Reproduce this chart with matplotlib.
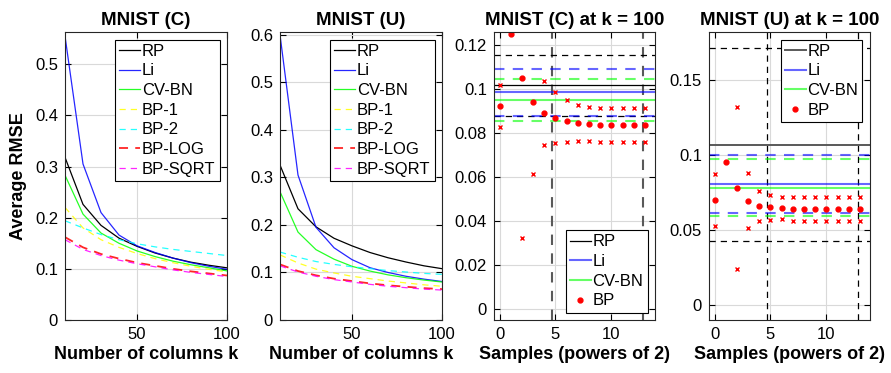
import numpy as np
import matplotlib
matplotlib.use('Agg')
import matplotlib.pyplot as plt

plt.rcParams['font.family'] = ['Liberation Sans', 'DejaVu Sans']

# data
k = [10, 20, 30, 40, 50, 60, 70, 80, 90, 100]
names = ['RP', 'Li', 'CV-BN', 'BP-1', 'BP-2', 'BP-LOG', 'BP-SQRT']

mnist_c = {
    'RP':      [0.318, 0.226, 0.185, 0.160, 0.144, 0.131, 0.121, 0.113, 0.107, 0.102],
    'Li':      [0.555, 0.305, 0.210, 0.166, 0.145, 0.132, 0.121, 0.112, 0.105, 0.099],
    'CV-BN':   [0.283, 0.207, 0.170, 0.150, 0.135, 0.124, 0.115, 0.108, 0.102, 0.096],
    'BP-1':    [0.220, 0.180, 0.157, 0.142, 0.130, 0.120, 0.112, 0.105, 0.099, 0.094],
    'BP-2':    [0.194, 0.180, 0.167, 0.157, 0.149, 0.143, 0.138, 0.134, 0.130, 0.126],
    'BP-LOG':  [0.162, 0.142, 0.129, 0.120, 0.112, 0.106, 0.100, 0.095, 0.091, 0.087],
    'BP-SQRT': [0.157, 0.138, 0.126, 0.117, 0.110, 0.104, 0.098, 0.093, 0.089, 0.085],
}
mnist_u = {
    'RP':      [0.326, 0.234, 0.196, 0.172, 0.156, 0.142, 0.131, 0.122, 0.114, 0.108],
    'Li':      [0.600, 0.305, 0.195, 0.152, 0.127, 0.110, 0.100, 0.092, 0.086, 0.081],
    'CV-BN':   [0.270, 0.185, 0.148, 0.128, 0.113, 0.103, 0.095, 0.089, 0.084, 0.080],
    'BP-1':    [0.137, 0.120, 0.107, 0.099, 0.092, 0.087, 0.082, 0.078, 0.074, 0.071],
    'BP-2':    [0.143, 0.132, 0.123, 0.117, 0.112, 0.108, 0.104, 0.101, 0.098, 0.096],
    'BP-LOG':  [0.117, 0.103, 0.094, 0.087, 0.082, 0.077, 0.073, 0.070, 0.067, 0.065],
    'BP-SQRT': [0.114, 0.101, 0.092, 0.085, 0.080, 0.075, 0.071, 0.068, 0.065, 0.063],
}

samples = list(range(14))
# MNIST (C) at k=100: baselines (mean, lower, upper)
c_base = {'RP': (0.1017, 0.0878, 0.1156), 'Li': (0.0985, 0.0880, 0.1092), 'CV-BN': (0.0949, 0.0854, 0.1044)}
c_bp_mean = [0.0922, 0.125, 0.1051, 0.0942, 0.0892, 0.0869, 0.0855, 0.0846, 0.0840, 0.0837, 0.0836, 0.0836, 0.0836, 0.0836]
c_bp_hi = [0.1018, 0.26, 0.178, 0.127, 0.1036, 0.0989, 0.0951, 0.0928, 0.0917, 0.0914, 0.0913, 0.0913, 0.0913, 0.0913]
c_bp_lo = [0.0827, -0.01, 0.0324, 0.0616, 0.0744, 0.0755, 0.0760, 0.0764, 0.0763, 0.0760, 0.0759, 0.0759, 0.0759, 0.0759]
# MNIST (U) at k=100
u_base = {'RP': (0.1070, 0.0429, 0.1711), 'Li': (0.0806, 0.0615, 0.0998), 'CV-BN': (0.0783, 0.0593, 0.0973)}
u_bp_mean = [0.0700, 0.0953, 0.0782, 0.0695, 0.0662, 0.0651, 0.0644, 0.0642, 0.0642, 0.0642, 0.0642, 0.0642, 0.0642, 0.0642]
u_bp_hi = [0.0875, 0.21, 0.1322, 0.0877, 0.0762, 0.0733, 0.0722, 0.0722, 0.0722, 0.0722, 0.0722, 0.0722, 0.0722, 0.0722]
u_bp_lo = [0.0524, -0.02, 0.0242, 0.0511, 0.0562, 0.0567, 0.0571, 0.0562, 0.0562, 0.0562, 0.0562, 0.0562, 0.0562, 0.0562]
vlines = [4.7, 12.8]

colors = {'RP': 'k', 'Li': (0, 0, 1), 'CV-BN': (0, 1, 0), 'BP-1': (1, 1, 0), 'BP-2': (0, 1, 1),
          'BP-LOG': (1, 0, 0), 'BP-SQRT': (1, 0, 1)}

fig = plt.figure(figsize=(8.91, 3.73), dpi=100)
W, H = 891, 373
def add_ax(x0, x1, y0=32, y1=320):
    return fig.add_axes([x0 / W, 1 - y1 / H, (x1 - x0) / W, (y1 - y0) / H])

axes = [add_ax(65, 227), add_ax(280, 442), add_ax(494, 655), add_ax(709, 870)]

def style(ax):
    ax.tick_params(direction='in', top=True, right=True, labelsize=12, length=4, width=0.8, pad=5)
    ax.grid(True, color='0.85', lw=0.8)
    ax.set_axisbelow(True)
    for s in ax.spines.values():
        s.set_linewidth(0.8)
        s.set_color('0.15')

def leg(ax, loc):
    l = ax.legend(loc=loc, fontsize=12, fancybox=False, framealpha=1, edgecolor='k',
                  handlelength=1.25, handletextpad=0.1, labelspacing=0.28, borderpad=0.25,
                  borderaxespad=0.45)
    l.get_frame().set_linewidth(0.8)

# panels 1 and 2
for ax, data, top, title in [(axes[0], mnist_c, 0.563, 'MNIST (C)'), (axes[1], mnist_u, 0.606, 'MNIST (U)')]:
    for n in names:
        ls = '-' if n in ('RP', 'Li', 'CV-BN') else (0, (5, 4))
        lw = 1.3 if n == 'BP-LOG' else 0.9
        ax.plot(k, data[n], color=colors[n], ls=ls, lw=lw, label=n, alpha=0.85 if n != 'RP' else 1)
    ax.set_xlim(10, 100)
    ax.set_ylim(0, top)
    ax.set_xticks([50, 100])
    ax.set_yticks(np.arange(0, top, 0.1))
    ax.set_yticklabels(['0' if v == 0 else f'{v:.1f}' for v in np.arange(0, top, 0.1)])
    ax.set_title(title, fontsize=13.5, fontweight='bold', pad=5)
    ax.set_xlabel('Number of columns k', fontsize=13, fontweight='bold', labelpad=3)
    style(ax)
    leg(ax, 'upper right')
axes[0].set_ylabel('Average RMSE', fontsize=13, fontweight='bold', labelpad=6)

# panels 3 and 4
for ax, base, mean, hi, lo, ylim, yt, title, vcol, vlw, rpc, rplw in [
        (axes[2], c_base, c_bp_mean, c_bp_hi, c_bp_lo, (-0.005, 0.126), np.arange(0, 0.121, 0.02),
         'MNIST (C) at k = 100', '0.35', 1.5, 'k', 0.9),
        (axes[3], u_base, u_bp_mean, u_bp_hi, u_bp_lo, (-0.01, 0.182), np.arange(0, 0.151, 0.05),
         'MNIST (U) at k = 100', 'k', 0.9, '0.35', 1.4)]:
    for xv in vlines:
        ax.axvline(xv, color=vcol, ls=(0, (5, 4)), lw=vlw)
    for n in ('RP', 'Li', 'CV-BN'):
        m, l_, h_ = base[n]
        if n == 'RP':
            ax.axhline(m, color=rpc, lw=rplw, label=n)
            ax.axhline(l_, color='k', lw=0.9, ls=(0, (5, 4)))
            ax.axhline(h_, color='k', lw=0.9, ls=(0, (5, 4)))
            continue
        c, a, lw = colors[n], 0.6, 1.5
        ax.axhline(m, color=c, alpha=a, lw=lw, label=n)
        ax.axhline(l_, color=c, alpha=a, lw=lw, ls=(0, (5, 4)))
        ax.axhline(h_, color=c, alpha=a, lw=lw, ls=(0, (5, 4)))
    ax.plot(samples, mean, 'o', color='r', ms=3.5, mec='r', ls='none', label='BP')
    ax.plot(samples, hi, 'x', color='r', ms=3, mew=1, ls='none')
    ax.plot(samples, lo, 'x', color='r', ms=3, mew=1, ls='none')
    ax.set_xlim(-0.5, 13.9)
    ax.set_ylim(*ylim)
    ax.set_xticks([0, 5, 10])
    ax.set_yticks(yt)
    ax.set_yticklabels(['0' if abs(v) < 1e-9 else f'{v:g}' for v in yt])
    ax.set_title(title, fontsize=13.5, fontweight='bold', pad=5)
    ax.set_xlabel('Samples (powers of 2)', fontsize=13, fontweight='bold', labelpad=3)
    style(ax)
leg(axes[2], 'lower right')
leg(axes[3], 'upper right')

fig.savefig('out.png', dpi=100)
